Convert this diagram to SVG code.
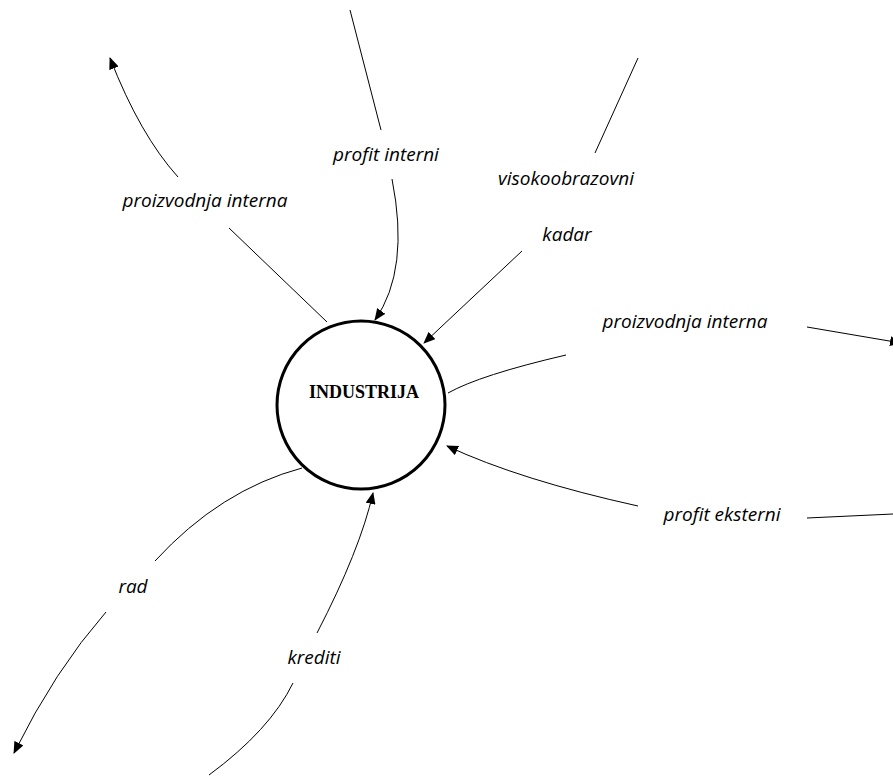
<svg xmlns="http://www.w3.org/2000/svg" width="893" height="776" viewBox="0 0 893 776">
<defs>
<marker id="arr" markerUnits="userSpaceOnUse" markerWidth="12" markerHeight="10" refX="11" refY="5" orient="auto">
<path d="M0,0 L12,5 L0,10 Z" fill="#000"/>
</marker>
<style>
.c{fill:none;stroke:#000;stroke-width:1}
.l{font-family:"Open Sans","Liberation Sans",sans-serif;font-style:italic;font-size:19px;fill:#000;text-anchor:middle}
.n{font-family:"Liberation Serif","Times New Roman",serif;font-weight:bold;font-size:18px;fill:#000;text-anchor:middle}
</style>
</defs>
<rect width="893" height="776" fill="#fff"/>
<g id="connectors">
<path class="c" d="M327,322 L229,228"/>
<path class="c" d="M178,177 Q140,135 110,58" marker-end="url(#arr)"/>
<path class="c" d="M350,10 L381,130"/>
<path class="c" d="M392,179 Q410,270 375,320" marker-end="url(#arr)"/>
<path class="c" d="M638,58 L595,153"/>
<path class="c" d="M522,251 L424,343" marker-end="url(#arr)"/>
<path class="c" d="M448,393 Q480,375 566,355"/>
<path class="c" d="M807,327 L901,343" marker-end="url(#arr)"/>
<path class="c" d="M893,514 L807,518"/>
<path class="c" d="M638,506 Q520,480 447,446" marker-end="url(#arr)"/>
<path class="c" d="M302,468 Q220,490 155,561"/>
<path class="c" d="M106,612 Q55,670 14,753" marker-end="url(#arr)"/>
<path class="c" d="M209,775 Q270,730 293,683"/>
<path class="c" d="M317,633 Q360,550 373,493" marker-end="url(#arr)"/>
</g>
<g id="industrija">
<circle cx="361" cy="405" r="84" fill="#fff" stroke="#000" stroke-width="3"/>
<text class="n" x="364" y="398">INDUSTRIJA</text>
</g>
<g id="labels">
<text class="l" x="205" y="207">proizvodnja interna</text>
<text class="l" x="386" y="161">profit interni</text>
<text class="l" x="566" y="185">visokoobrazovni</text>
<text class="l" x="567" y="241">kadar</text>
<text class="l" x="685" y="328">proizvodnja interna</text>
<text class="l" x="722" y="521">profit eksterni</text>
<text class="l" x="133" y="593">rad</text>
<text class="l" x="314" y="664">krediti</text>
</g>
</svg>
